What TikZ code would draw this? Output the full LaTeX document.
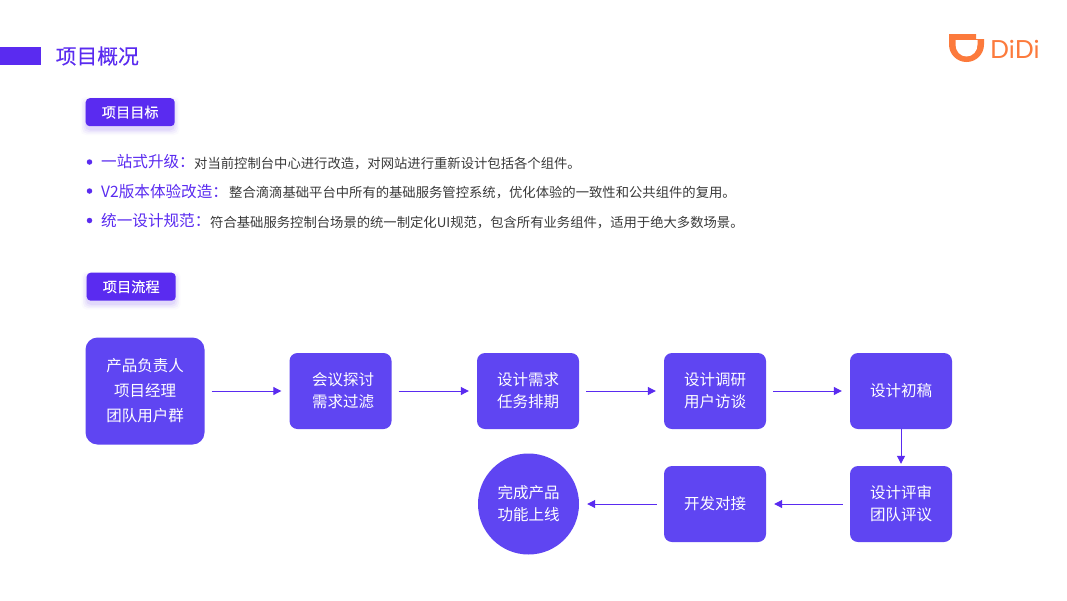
\documentclass[tikz,border=0pt]{standalone}
\usepackage{fontspec}
\setmainfont{Noto Sans CJK SC}
\newfontfamily\medfont[FakeBold=0.15]{Noto Sans CJK SC}
\newfontfamily\logofont{Lato}
\usetikzlibrary{arrows.meta}
\definecolor{vio}{HTML}{5A2BF0}
\definecolor{boxc}{HTML}{5F45F2}
\definecolor{txt}{HTML}{3A3A3A}
\definecolor{org}{HTML}{FC7A3C}
\tikzset{
  flow/.style={draw=none,fill=boxc,text=white,rounded corners=8pt,minimum width=102pt,minimum height=76pt,align=center,font=\fontsize{15.5}{22}\selectfont,inner sep=0pt},
  tag/.style={fill=vio,text=white,rounded corners=4pt,minimum width=89pt,minimum height=28pt,inner sep=0pt,font=\medfont\fontsize{14.2}{16}\selectfont},
  arr/.style={draw=vio,line width=1pt,shorten >=8pt,shorten <=7pt,-{Triangle[length=8pt,width=8pt]}},
  head/.style={text=vio,anchor=west,inner sep=0pt,font=\fontsize{15.6}{18}\selectfont},
  body/.style={text=txt,anchor=west,inner sep=0pt,font=\fontsize{13.33}{16}\selectfont},
  dotm/.style={circle,fill=vio,minimum size=5.5pt,inner sep=0pt}
}
\newcommand{\tagshadow}[2]{%
  \foreach \g/\o in {5/0.02,3.5/0.04,2/0.05,0.5/0.07}{
    \pgfmathsetmacro{\xa}{#1-\g}\pgfmathsetmacro{\ya}{#2+4-\g}
    \pgfmathsetmacro{\xb}{#1+89+\g}\pgfmathsetmacro{\yb}{#2+28+4+\g}
    \fill[vio,opacity=\o,rounded corners=5pt] (\xa,\ya) rectangle (\xb,\yb);
  }}
\begin{document}
\begin{tikzpicture}[x=1pt,y=-1pt]
\useasboundingbox (0,0) rectangle (1067,600);
\fill[white] (0,0) rectangle (1067,600);
% header
\fill[vio] (0,47) rectangle (41,65);
\node[text=vio,anchor=west,inner sep=0pt,font=\medfont\fontsize{20.8}{24}\selectfont] (title) at (55.5,56) {项目概况};
% logo
\fill[org] (949,34) -- (976,34) -- (976,39) -- (984,39) -- (984,44.5)
  .. controls (984,54.2) and (976.2,62) .. (966.5,62)
  .. controls (956.8,62) and (949,54.2) .. (949,44.5) -- cycle;
\fill[white] (955.5,40) -- (977.5,40) -- (977.5,44.5)
  .. controls (977.5,51.4) and (972.6,56.5) .. (966.5,56.5)
  .. controls (960.4,56.5) and (955.5,51.4) .. (955.5,44.5) -- cycle;
\node[text=org,anchor=west,inner sep=0pt,font=\logofont\fontsize{25}{28}\selectfont] (logo) at (990,49) {DiDi};
% tags
\tagshadow{85.5}{98}
\node[tag,anchor=north west] (goal) at (85.5,98) {项目目标};
\tagshadow{86.5}{272.5}
\node[tag,anchor=north west] (proc) at (86.5,272.5) {项目流程};
% bullets
\node[dotm] (d1) at (89.5,162) {};
\node[dotm] (d2) at (89.5,191) {};
\node[dotm] (d3) at (89.5,220.5) {};
\node[head] (h1) at (101,162) {一站式升级：};
\node[body] (b1) at (194,163.5) {对当前控制台中心进行改造，对网站进行重新设计包括各个组件。};
\node[head] (h2) at (101,191.5) {V2版本体验改造：};
\node[body] (b2) at (229,192.5) {整合滴滴基础平台中所有的基础服务管控系统，优化体验的一致性和公共组件的复用。};
\node[head] (h3) at (101,221) {统一设计规范：};
\node[body] (b3) at (210,222.5) {符合基础服务控制台场景的统一制定化UI规范，包含所有业务组件，适用于绝大多数场景。};
% flow
\node[flow,minimum width=119pt,minimum height=107pt,rounded corners=12pt,font=\fontsize{15.5}{25}\selectfont] (n1) at (145,391) {产品负责人\\项目经理\\团队用户群};
\node[flow] (n2) at (340.5,391) {\hspace*{5pt}会议探讨\\\hspace*{5pt}需求过滤};
\node[flow] (n3) at (528,391) {设计需求\\任务排期};
\node[flow] (n4) at (715,391) {设计调研\\用户访谈};
\node[flow] (n5) at (901,391) {设计初稿};
\node[flow] (n6) at (901,504) {设计评审\\团队评议};
\node[flow] (n7) at (715,504) {开发对接};
\node[flow,circle,minimum width=101pt,minimum height=101pt] (n8) at (528.5,504) {完成产品\\功能上线};
\draw[arr] (n1) -- (n2);
\draw[arr] (n2) -- (n3);
\draw[arr] (n3) -- (n4);
\draw[arr] (n4) -- (n5);
\draw[arr,shorten >=2pt,shorten <=0pt] (n5) -- (n6);
\draw[arr] (n6) -- (n7);
\draw[arr] (n7) -- (n8);
\end{tikzpicture}
\end{document}
